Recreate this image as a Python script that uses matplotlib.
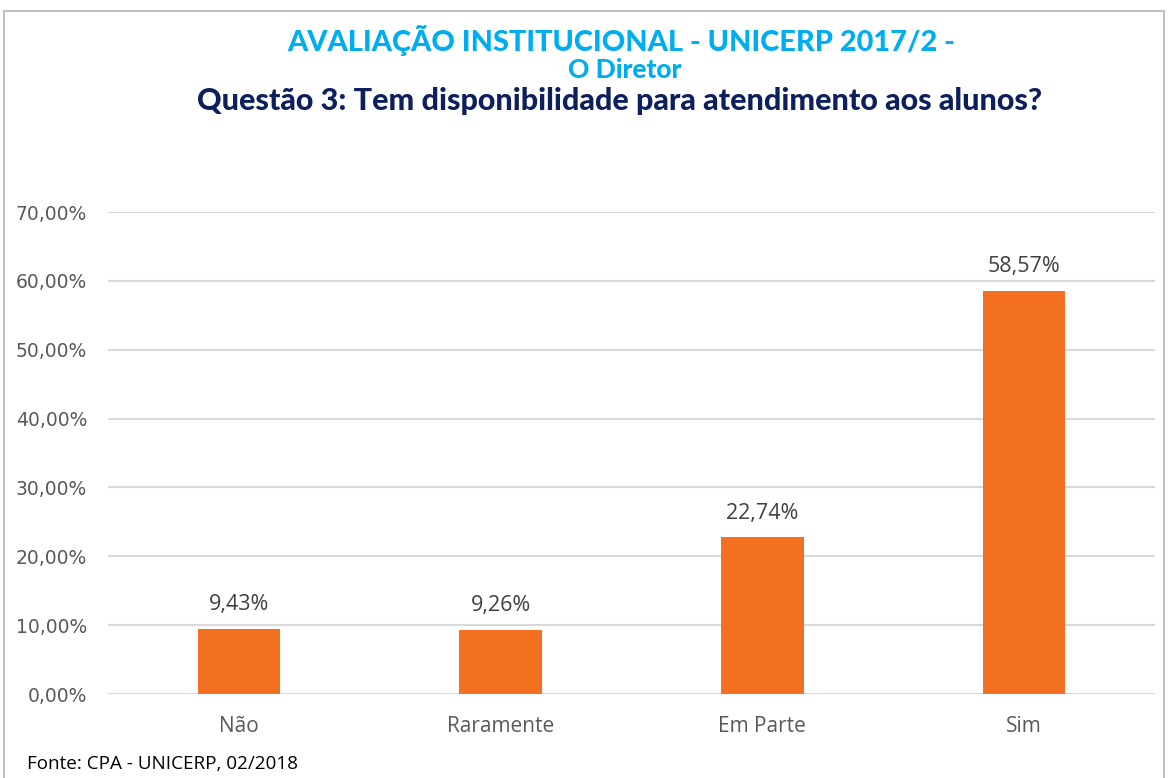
import matplotlib as mpl
import matplotlib.pyplot as plt
from matplotlib.patches import Rectangle

categories = ['Não', 'Raramente', 'Em Parte', 'Sim']
values = [9.43, 9.26, 22.74, 58.57]
yticks = [0, 10, 20, 30, 40, 50, 60, 70]

W, H = 1168, 778
fig = plt.figure(figsize=(W / 100, H / 100), dpi=100, facecolor='white')

# chart frame
fig.patches.append(Rectangle((4 / W, -0.01), (1164 - 4) / W, (H - 11) / H + 0.01,
                             transform=fig.transFigure, fill=False,
                             edgecolor='#bfbfbf', lw=1.5))

ax = fig.add_axes([108 / W, (H - 694) / H, (1155 - 108) / W, (694 - 212) / H])

x = range(len(categories))
ax.bar(x, values, width=0.315, color='#f37021', zorder=3)
for xi, v in zip(x, values):
    ax.text(xi, v + 2.0, f'{v:.2f}%'.replace('.', ','), ha='center', va='bottom',
            fontsize=15.5, color='#404040', family='Open Sans')

ax.set_xlim(-0.5, 3.5)
ax.set_ylim(0, 70)
ax.set_yticks(yticks)
ax.set_yticklabels([f'{t:.2f}%'.replace('.', ',') for t in yticks],
                   fontsize=13.5, color='#595959')
ax.set_xticks(list(x))
ax.set_xticklabels(categories, fontsize=15, color='#595959', family='Open Sans')
ax.tick_params(axis='both', length=0)
ax.tick_params(axis='y', pad=15)
ax.tick_params(axis='x', pad=16)
ax.grid(axis='y', color='#d9d9d9', lw=1.5, zorder=0)
for s in ax.spines.values():
    s.set_visible(False)

fig.text(621 / W, 1 - 40 / H, 'AVALIAÇÃO INSTITUCIONAL - UNICERP 2017/2 -',
         ha='center', va='center', fontsize=20.8, color='#00aeef',
         family='Lato', weight='black')
fig.text(625 / W, 1 - 70 / H, 'O Diretor', ha='center', va='center',
         fontsize=19, color='#00aeef', family='Lato', weight='black')
fig.text(620 / W, 1 - 101 / H, 'Questão 3: Tem disponibilidade para atendimento aos alunos?',
         ha='center', va='center', fontsize=22, color='#0d1f5c',
         family='Lato', weight='black')

fig.text(27 / W, 1 - 764 / H, 'Fonte: CPA - UNICERP, 02/2018', ha='left', va='center',
         fontsize=13.6, color='black', family='Open Sans')

plt.savefig('out.png', dpi=100, facecolor='white')
